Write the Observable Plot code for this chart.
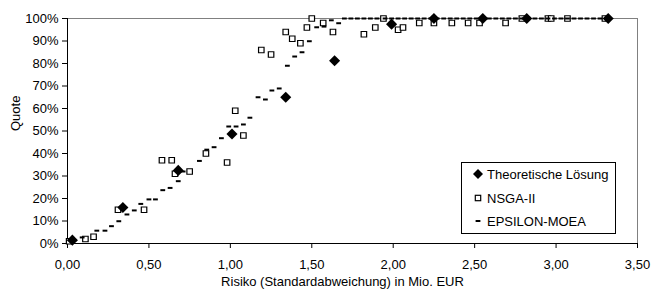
<!DOCTYPE html>
<html>
<head>
<meta charset="utf-8">
<script src="https://cdn.jsdelivr.net/npm/d3@7"></script>
<script src="https://cdn.jsdelivr.net/npm/@observablehq/plot@0.6"></script>
<style>
  body { margin: 0; background: #fff; }
  #wrap { position: relative; width: 652px; height: 298px; font-family: "Liberation Sans", Arial, sans-serif; }
  #legend { position: absolute; left: 461px; top: 162px; width: 153px; height: 70px; border: 1px solid #000; background: #fff; font-size: 13px; color: #000; }
  #legend .row { position: absolute; left: 8px; height: 16px; display: flex; align-items: center; }
  #legend svg { width: 16px; height: 16px; margin-right: 1px; }
</style>
</head>
<body>
<div id="wrap"></div>
<script>
// Theoretische Lösung
const theoX = [0.03, 0.34, 0.68, 1.01, 1.34, 1.64, 1.99, 2.25, 2.55, 2.82, 3.32];
const theoY = [1.5, 16, 32.5, 48.7, 65, 81.2, 97.5, 100, 100, 100, 100];

// NSGA-II
const nsgaX = [0.01, 0.11, 0.16, 0.31, 0.47, 0.58, 0.64, 0.66, 0.75, 0.85, 0.98, 1.03, 1.08, 1.19, 1.25, 1.34, 1.38, 1.43, 1.47, 1.50, 1.57, 1.63, 1.82, 1.89, 1.94, 2.03, 2.06, 2.16, 2.25, 2.36, 2.46, 2.53, 2.69, 2.79, 2.95, 2.97, 3.07, 3.30];
const nsgaY = [1, 2, 3, 15, 15, 37, 37, 31, 32, 40, 36, 59, 48, 86, 84, 94, 91, 89, 96, 100, 98, 94, 93, 96, 100, 95, 96, 98, 98, 98, 98, 98, 98, 100, 100, 100, 100, 100];

// EPSILON-MOEA
const epsX = [0.09, 0.18, 0.23, 0.27, 0.315, 0.365, 0.41, 0.45, 0.50, 0.54, 0.585, 0.63, 0.68, 0.71, 0.81, 0.855, 0.90, 0.945, 0.99, 1.035, 1.08, 1.12, 1.17, 1.215, 1.255, 1.30, 1.35, 1.395, 1.44, 1.485, 1.53, 1.575, 1.62, 1.665,
  1.70, 1.74, 1.78, 1.82, 1.86, 1.90, 1.95, 1.99, 2.03, 2.07, 2.11, 2.15, 2.19, 2.23, 2.27, 2.31, 2.35, 2.39, 2.43, 2.47, 2.51, 2.55, 2.59, 2.63, 2.67, 2.71, 2.75, 2.79, 2.83, 2.87, 2.91, 2.95, 2.99, 3.03, 3.07, 3.11, 3.15, 3.19, 3.23, 3.27, 3.31];
const epsY = [2.7, 5.7, 5.7, 7.7, 9.9, 12.9, 14.7, 17.6, 19.6, 19.6, 23.7, 24.7, 27.7, 32, 36.7, 41.7, 42.8, 46.8, 52, 52, 52.9, 55.9, 65, 64, 68, 68.9, 79, 83.1, 85, 89.9, 96.1, 96.4, 99.2, 97.9,
  100, 100, 100, 100, 100, 100, 100, 100, 100, 100, 100, 100, 100, 100, 100, 100, 100, 100, 100, 100, 100, 100, 100, 100, 100, 100, 100, 100, 100, 100, 100, 100, 100, 100, 100, 100, 100, 100, 100, 100, 100];

const xTicks = [0, 0.5, 1, 1.5, 2, 2.5, 3, 3.5];
const yTicks = [0, 10, 20, 30, 40, 50, 60, 70, 80, 90, 100];
const xLabel = "Risiko (Standardabweichung) in Mio. EUR";
const yLabel = "Quote";
const seriesNames = ["Theoretische Lösung", "NSGA-II", "EPSILON-MOEA"];

const theo = theoX.map((x, i) => ({x, y: theoY[i]}));
const nsga = nsgaX.map((x, i) => ({x, y: nsgaY[i]}));
const eps = epsX.map((x, i) => ({x, y: epsY[i]}));

const dashSymbol = {
  draw(context) {
    context.moveTo(-2.4, -1);
    context.lineTo(2.4, -1);
    context.lineTo(2.4, 1);
    context.lineTo(-2.4, 1);
    context.closePath();
  }
};

const chart = Plot.plot({
  width: 652,
  height: 298,
  marginLeft: 67,
  marginRight: 15,
  marginTop: 18,
  marginBottom: 55,
  style: {fontFamily: "'Liberation Sans', Arial, sans-serif", fontSize: "13px", color: "#000", background: "#fff"},
  x: {domain: [0, 3.5]},
  y: {domain: [0, 100]},
  marks: [
    Plot.frame({stroke: "#808080", strokeWidth: 1}),
    Plot.axisX({ticks: xTicks, tickFormat: d => d.toFixed(2).replace(".", ","), tickSize: 5, tickPadding: 11, label: null, stroke: "#000"}),
    Plot.axisY({ticks: yTicks, tickFormat: d => d + "%", tickSize: 5, tickPadding: 4, label: null, stroke: "#000"}),
    Plot.text([xLabel], {frameAnchor: "bottom", dy: 42, dx: -10, fill: "#000"}),
    Plot.text([yLabel], {frameAnchor: "left", dx: -52, rotate: -90, fill: "#000"}),
    Plot.ruleX([0], {stroke: "#000", strokeWidth: 1}),
    Plot.ruleY([0], {stroke: "#000", strokeWidth: 1}),
    Plot.dot(nsga, {x: "x", y: "y", symbol: "square", r: 3.1, fill: "#fff", stroke: "#000", strokeWidth: 1.2}),
    Plot.dot(eps, {x: "x", y: "y", symbol: dashSymbol, r: 3, fill: "#000", stroke: "none"}),
    Plot.dot(theo, {x: "x", y: "y", symbol: "diamond2", r: 5, fill: "#000", stroke: "none"})
  ]
});

const wrap = document.getElementById("wrap");
wrap.appendChild(chart);

const legend = document.createElement("div");
legend.id = "legend";
const icons = [
  '<svg viewBox="-8 -8 16 16"><path d="M0,-5L5,0L0,5L-5,0Z" fill="#000"/></svg>',
  '<svg viewBox="-8 -8 16 16"><rect x="-2.7" y="-2.7" width="5.4" height="5.4" fill="#fff" stroke="#000" stroke-width="1.2"/></svg>',
  '<svg viewBox="-8 -8 16 16"><rect x="-2.4" y="-1" width="4.8" height="2" fill="#000"/></svg>'
];
const tops = [3, 27, 50];
seriesNames.forEach((name, i) => {
  const row = document.createElement("div");
  row.className = "row";
  row.style.top = tops[i] + "px";
  row.innerHTML = icons[i] + "<span>" + name + "</span>";
  legend.appendChild(row);
});
wrap.appendChild(legend);
</script>
</body>
</html>
